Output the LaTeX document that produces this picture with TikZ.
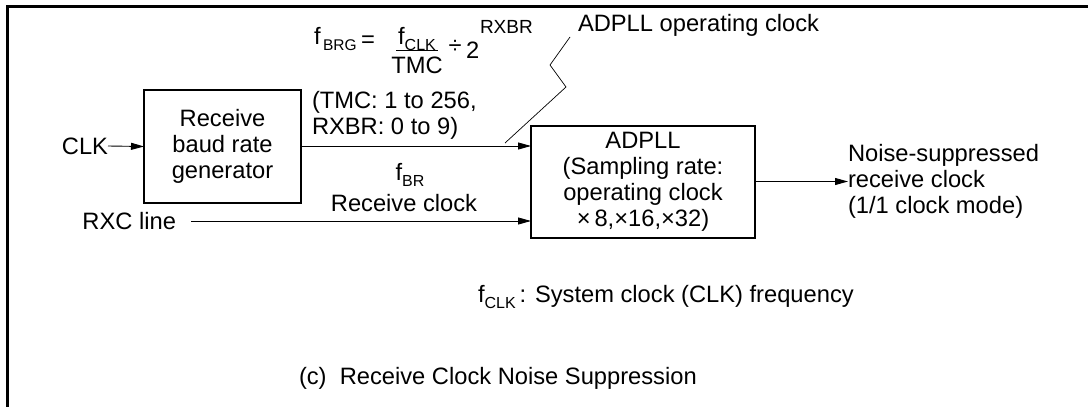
\documentclass[tikz,border=0pt]{standalone}
\usepackage{fontspec}
\setmainfont{Liberation Sans}
\usetikzlibrary{arrows.meta}
\newcommand{\lowtxt}[1]{\raisebox{-0.28em}{\fontsize{16}{16}\selectfont #1}}
\begin{document}
\begin{tikzpicture}[x=1pt,y=-1pt,
  every node/.style={font=\fontsize{23.7}{26}\selectfont, inner sep=0pt, outer sep=0pt},
  blk/.style={draw, line width=1.1pt, align=center},
  arr/.style={line width=0.9pt, -{Triangle[length=13pt,width=7pt]}},
  thin/.style={line width=0.7pt},
  sub/.style={font=\fontsize{15.5}{15.5}\selectfont},
  supr/.style={font=\fontsize{19}{19}\selectfont}]
\useasboundingbox (0,0) rectangle (1088,407);
% frame
\draw[line width=2.6pt] (7.3,407) -- (7.3,6.2) -- (1088,6.2);
% blocks
\node[blk, minimum width=157pt, minimum height=113pt] (brg) at (222.5,146.5) {Receive\\baud rate\\generator};
\node[blk, minimum width=224pt, minimum height=112pt] (pll) at (643,182) {ADPLL\\(Sampling rate:\\operating clock\\×\,8,×16,×32)};
% inputs
\node[anchor=east] (clk) at (108,146) {CLK};
\node[anchor=east] (rxc) at (176,221) {RXC line};
\coordinate (rxcs) at (191,221);
\draw[arr] (clk.east) -- (brg.west);
\draw[arr] (brg.east |- 0,146) -- (pll.west |- 0,146);
\draw[arr] (rxcs) -- (pll.west |- 0,221);
% output
\node[anchor=west, align=left] (out) at (848,181.5) {Noise-suppressed\\receive clock\\(1/1 clock mode)};
\draw[arr] (pll.east |- 0,181.5) -- (out.west);
% labels on the lines
\node (fbr) at (410,175) {f\lowtxt{BR}};
\node (rcl) at (404,203) {Receive clock};
% formula
\node[anchor=base west] (ff) at (314,44) {f};
\node[sub, anchor=base west] (fsub) at (323,50) {BRG};
\node (feq) at (368,42) {=};
\node[anchor=base] (fnum) at (417,44) {f\lowtxt{CLK}};
\node[anchor=base] (fden) at (417,73) {TMC};
\draw[line width=0.8pt] (396,50) -- (438,50);
\node (fdiv) at (455,47) {÷};
\node[anchor=base west] (ftwo) at (466,58) {2};
\node[supr, anchor=base west] (fexp) at (480,33) {RXBR};
\node[anchor=west, align=left] (rng) at (312,115) {(TMC: 1 to 256,\\RXBR: 0 to 9)};
% leader to ADPLL operating clock
\node[anchor=west] (opc) at (578,25) {ADPLL operating clock};
\coordinate (l0) at (505,143);
\coordinate (l1) at (566,87);
\coordinate (l2) at (550,65);
\coordinate (l3) at (570,37);
\draw[thin] (l0) -- (l1) -- (l2) -- (l3);
% notes
\node[anchor=west] (note) at (478,297) {f\lowtxt{CLK}\,: System clock (CLK) frequency};
\node[anchor=west] (cap) at (299,378) {(c)\ \ Receive Clock Noise Suppression};
\end{tikzpicture}
\end{document}
